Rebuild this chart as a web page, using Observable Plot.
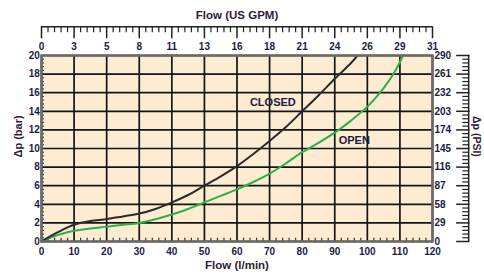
<!DOCTYPE html>
<html><head><meta charset="utf-8">
<script src="https://cdn.jsdelivr.net/npm/d3@7"></script>
<script src="https://cdn.jsdelivr.net/npm/@observablehq/plot@0.6"></script>
<style>
html,body{margin:0;padding:0;background:#fff;}
svg{display:block;}
</style>
</head><body>
<div id="chart"></div>
<script>
// ticks (l/min along x, bar along y)
const flowTicks = [0,10,20,30,40,50,60,70,80,90,100,110,120];
const gpmLabels = ["0","3","5","8","11","13","16","18","21","24","26","29","31"];
const barTicks = [0,2,4,6,8,10,12,14,16,18,20];
const psiLabels = ["0","29","58","87","116","145","174","203","232","261","290"];

// CLOSED curve
const closedFlow = [0,5,10,15,20,25,30,35,40,45,50,55,60,65,70,75,80,85,90,95,97];
const closedDp   = [0,1.0,1.8,2.2,2.4,2.7,3.0,3.5,4.2,5.0,6.0,7.0,8.1,9.4,10.8,12.3,14.0,15.7,17.5,19.2,20];
// OPEN curve
const openFlow = [0,5,10,15,20,25,30,35,40,45,50,55,60,65,70,75,80,85,90,95,100,105,108,111];
const openDp   = [0,0.7,1.15,1.4,1.6,1.8,2.0,2.4,2.9,3.5,4.2,4.9,5.6,6.4,7.3,8.4,9.6,10.6,11.7,13.0,14.5,16.5,18.0,20];

const curveLabels = ["CLOSED","OPEN"];
const curveLabelFlow = [71,96];
const curveLabelDp = [14.9,10.9];

const closed = closedFlow.map((x,i)=>({x, y: closedDp[i]}));
const open = openFlow.map((x,i)=>({x, y: openDp[i]}));
const minorFlow = d3.range(0,121,2).filter(v=>v%10!==0);
const minorBar = d3.range(0,20.01,0.4).map(v=>+v.toFixed(1)).filter(v=>Math.abs(v/2-Math.round(v/2))>1e-6);

const txt = "#1c1c40";
const ttl = "#2e1c38";
const font = "'Liberation Sans', Arial, sans-serif";

const chart = Plot.plot({
  width: 484, height: 275,
  marginLeft: 41, marginRight: 52, marginTop: 55, marginBottom: 34,
  x: {domain: [0,120], axis: null},
  y: {domain: [0,20], axis: null},
  style: {fontFamily: font, background: "#fff", overflow: "visible"},
  marks: [
    Plot.frame({fill: "#fdebd2"}),
    Plot.gridX(flowTicks, {stroke: "#141414", strokeOpacity: 1, strokeWidth: 1.7}),
    Plot.gridY(barTicks, {stroke: "#141414", strokeOpacity: 1, strokeWidth: 1.7}),
    Plot.ruleX(minorFlow, {x: d=>d, y1: 0, y2: 0.35, stroke: "#333", strokeWidth: 1.2}),
    Plot.ruleY(minorBar, {y: d=>d, x1: 0, x2: 0.9, stroke: "#333", strokeWidth: 1.2}),
    Plot.line(open, {x: "x", y: "y", stroke: "#2cb14a", strokeWidth: 2, curve: "catmull-rom"}),
    Plot.line(closed, {x: "x", y: "y", stroke: "#2a2a2a", strokeWidth: 2, curve: "catmull-rom"}),
    Plot.frame({stroke: "#6a6a6a", strokeWidth: 2.5}),
    Plot.text(curveLabels, {x: (d,i)=>curveLabelFlow[i], y: (d,i)=>curveLabelDp[i], text: d=>d,
      fontSize: 11, fill: txt, fontWeight: "bold", letterSpacing: "-0.2px"}),
    // bottom axis
    Plot.text(flowTicks, {x: d=>d, y: -1.1, text: d=>String(d), fontSize: 10, fontWeight: "bold", fill: txt}),
    Plot.text(["Flow (l/min)"], {x: 60, y: -2.6, text: d=>d, fontSize: 11.5, fontWeight: "bold", fill: ttl}),
    // left axis
    Plot.text(barTicks, {x: -0.5, y: d=>d, text: d=>String(d), textAnchor: "end", fontSize: 10, fontWeight: "bold", fill: txt}),
    Plot.text(["Δp (bar)"], {x: -7, y: 11.3, text: d=>d, rotate: -90, fontSize: 11, fontWeight: "bold", fill: ttl}),
    // top ruler
    Plot.ruleY([23.1], {x1: 0, x2: 120, stroke: "#222", strokeWidth: 1.5}),
    Plot.ruleX(flowTicks, {x: d=>d, y1: 23.1, y2: 21.8, stroke: "#222", strokeWidth: 1.5}),
    Plot.ruleX(minorFlow, {x: d=>d, y1: 23.1, y2: 22.45, stroke: "#222", strokeWidth: 1.2}),
    Plot.text(flowTicks, {x: d=>d, y: 20.95, text: (d,i)=>gpmLabels[i], fontSize: 10, fontWeight: "bold", fill: txt}),
    Plot.text(["Flow (US GPM)"], {x: 60, y: 24.3, text: d=>d, fontSize: 11.5, fontWeight: "bold", fill: ttl}),
    // right ruler
    Plot.ruleX([131.1], {y1: 0, y2: 20, stroke: "#222", strokeWidth: 1.5}),
    Plot.ruleY(barTicks, {y: d=>d, x1: 131.5, x2: 127.4, stroke: "#222", strokeWidth: 1.5}),
    Plot.ruleY(minorBar, {y: d=>d, x1: 131.1, x2: 129.3, stroke: "#222", strokeWidth: 1.2}),
    Plot.text(barTicks, {x: 120.6, y: d=>d, text: (d,i)=>psiLabels[i], textAnchor: "start", fontSize: 10, fontWeight: "bold", fill: txt}),
    Plot.text(["Δp (PSI)"], {x: 133.4, y: 11.3, text: d=>d, rotate: 90, fontSize: 10.5, fontWeight: "bold", fill: ttl})
  ]
});
document.getElementById("chart").appendChild(chart);
</script>
</body></html>
